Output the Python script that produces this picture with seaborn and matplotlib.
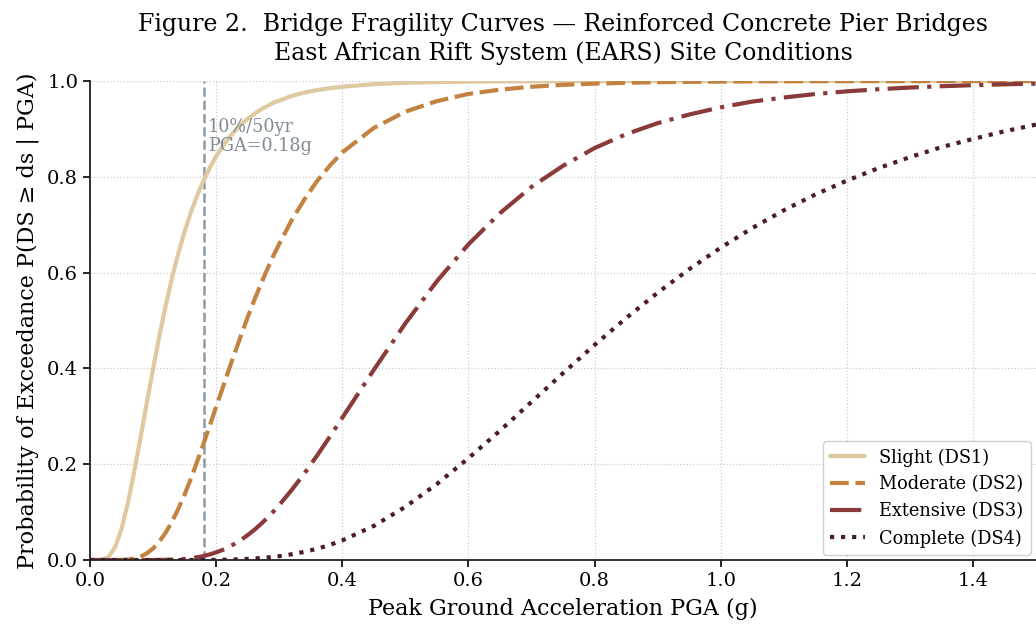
import numpy as np
import pandas as pd
import matplotlib
matplotlib.use("Agg")
import matplotlib.pyplot as plt
import seaborn as sns

# ---- data ----
pga = [0.00, 0.01, 0.02, 0.03, 0.04, 0.05, 0.06, 0.07, 0.08, 0.09,
       0.10, 0.11, 0.12, 0.13, 0.14, 0.15, 0.16, 0.17, 0.18, 0.19,
       0.20, 0.21, 0.22, 0.23, 0.24, 0.25, 0.26, 0.27, 0.28, 0.29,
       0.30, 0.32, 0.34, 0.36, 0.38, 0.40, 0.45, 0.50, 0.55, 0.60,
       0.65, 0.70, 0.75, 0.80, 0.85, 0.90, 0.95, 1.00, 1.05, 1.10,
       1.15, 1.20, 1.25, 1.30, 1.35, 1.40, 1.45, 1.50]

slight = [0.0, 0.0, 0.0007, 0.0073, 0.0274, 0.065, 0.119, 0.184, 0.255, 0.328,
          0.399, 0.468, 0.531, 0.589, 0.640, 0.686, 0.726, 0.761, 0.792, 0.819,
          0.843, 0.863, 0.881, 0.896, 0.910, 0.921, 0.931, 0.940, 0.947, 0.954,
          0.959, 0.969, 0.976, 0.981, 0.985, 0.988, 0.9934, 0.9962, 0.9978, 0.9987,
          0.9992, 0.9995, 0.9997, 0.9998, 0.9999, 0.9999, 1.0, 1.0, 1.0, 1.0,
          1.0, 1.0, 1.0, 1.0, 1.0, 1.0, 1.0, 1.0]

moderate = [0.0, 0.0, 0.0, 0.0, 0.0, 0.0003, 0.0010, 0.0030, 0.0069, 0.0138,
            0.0241, 0.0386, 0.0573, 0.0802, 0.107, 0.137, 0.170, 0.206, 0.243, 0.281,
            0.320, 0.358, 0.397, 0.434, 0.471, 0.507, 0.541, 0.573, 0.604, 0.633,
            0.660, 0.710, 0.753, 0.791, 0.823, 0.851, 0.902, 0.936, 0.958, 0.973,
            0.982, 0.988, 0.992, 0.9945, 0.9963, 0.9975, 0.9982, 0.9988, 0.9992, 0.9994,
            0.9996, 0.9997, 0.9998, 0.9998, 0.9999, 0.9999, 0.9999, 1.0]

extensive = [0.0, 0.0, 0.0, 0.0, 0.0, 0.0, 0.0, 0.0, 0.0, 0.0,
             0.0001, 0.0002, 0.0004, 0.0008, 0.0015, 0.0024, 0.0038, 0.0058, 0.0084, 0.0118,
             0.0160, 0.0210, 0.0272, 0.0343, 0.0426, 0.0520, 0.0624, 0.0740, 0.0865, 0.100,
             0.1147, 0.1466, 0.181, 0.218, 0.257, 0.297, 0.397, 0.494, 0.582, 0.659,
             0.724, 0.779, 0.823, 0.860, 0.889, 0.912, 0.930, 0.945, 0.957, 0.9655,
             0.9728, 0.9784, 0.9828, 0.9863, 0.9891, 0.9913, 0.9931, 0.9945]

complete = [0.0, 0.0, 0.0, 0.0, 0.0, 0.0, 0.0, 0.0, 0.0, 0.0,
            0.0, 0.0, 0.0, 0.0, 0.0, 0.0, 0.0001, 0.0001, 0.0002, 0.0003,
            0.0004, 0.0006, 0.0009, 0.0012, 0.0017, 0.0023, 0.0031, 0.0040, 0.0051, 0.0064,
            0.0080, 0.0120, 0.0171, 0.0235, 0.0314, 0.0409, 0.0712, 0.111, 0.1587, 0.2125,
            0.270, 0.330, 0.390, 0.449, 0.505, 0.558, 0.607, 0.652, 0.693, 0.730,
            0.763, 0.792, 0.818, 0.841, 0.862, 0.879, 0.895, 0.909]

labels = ["Slight (DS1)", "Moderate (DS2)", "Extensive (DS3)", "Complete (DS4)"]
colors = ["#DEC9A1", "#C3823F", "#8B3A3A", "#4B1A2C"]
styles = ["-", (0, (4.5, 1.6)), (0, (7.5, 2.0, 1.0, 2.0)), ":"]

design_pga = 0.18
annot_text = "10%/50yr\nPGA=0.18g"
title = ("Figure 2.  Bridge Fragility Curves \u2014 Reinforced Concrete Pier Bridges\n"
         "East African Rift System (EARS) Site Conditions")
xlabel = "Peak Ground Acceleration PGA (g)"
ylabel = "Probability of Exceedance P(DS \u2265 ds | PGA)"

df = pd.DataFrame({"PGA": pga, labels[0]: slight, labels[1]: moderate,
                   labels[2]: extensive, labels[3]: complete})

# ---- style ----
sns.set_theme(style="ticks")
plt.rcParams["font.family"] = ["DejaVu Serif"]
plt.rcParams["text.color"] = "black"
plt.rcParams["axes.labelcolor"] = "black"
plt.rcParams["xtick.color"] = "black"
plt.rcParams["ytick.color"] = "black"

fig = plt.figure(figsize=(10.36, 6.26), dpi=100)
ax = fig.add_axes([0.0869, 0.1054, 0.9131, 0.7652])

for lab, col, ls in zip(labels, colors, styles):
    sns.lineplot(data=df, x="PGA", y=lab, ax=ax, color=col, linewidth=3.0,
                 linestyle=ls, label=lab)

ax.axvline(design_pga, color="#8C9BA5", linestyle="--", linewidth=1.8, zorder=1)
ax.text(design_pga + 0.007, 0.922, annot_text, color="#7E8B95", fontsize=12.7,
        va="top", ha="left", linespacing=1.08)

ax.set_xlim(0, 1.5)
ax.set_ylim(0, 1.0)
ax.set_xticks(np.arange(0, 1.41, 0.2))
ax.set_yticks(np.arange(0, 1.01, 0.2))
ax.set_xticklabels([f"{v:.1f}" for v in np.arange(0, 1.41, 0.2)])
ax.set_yticklabels([f"{v:.1f}" for v in np.arange(0, 1.01, 0.2)])
ax.tick_params(labelsize=14, length=5, width=1.2)
ax.grid(True, linestyle=":", color="#CCCCCC", linewidth=0.9)
sns.despine(ax=ax)
for s in ("left", "bottom"):
    ax.spines[s].set_linewidth(1.3)
    ax.spines[s].set_color("#222222")

ax.set_xlabel(xlabel, fontsize=16, labelpad=6)
ax.set_ylabel(ylabel, fontsize=16, labelpad=6)
ax.set_title(title, fontsize=17, linespacing=1.3, pad=15)

leg = ax.legend(loc="lower right", fontsize=12.8, frameon=True, framealpha=1.0,
                edgecolor="#D0D0D0", borderaxespad=0.3)

fig.savefig("out.png", dpi=100)
